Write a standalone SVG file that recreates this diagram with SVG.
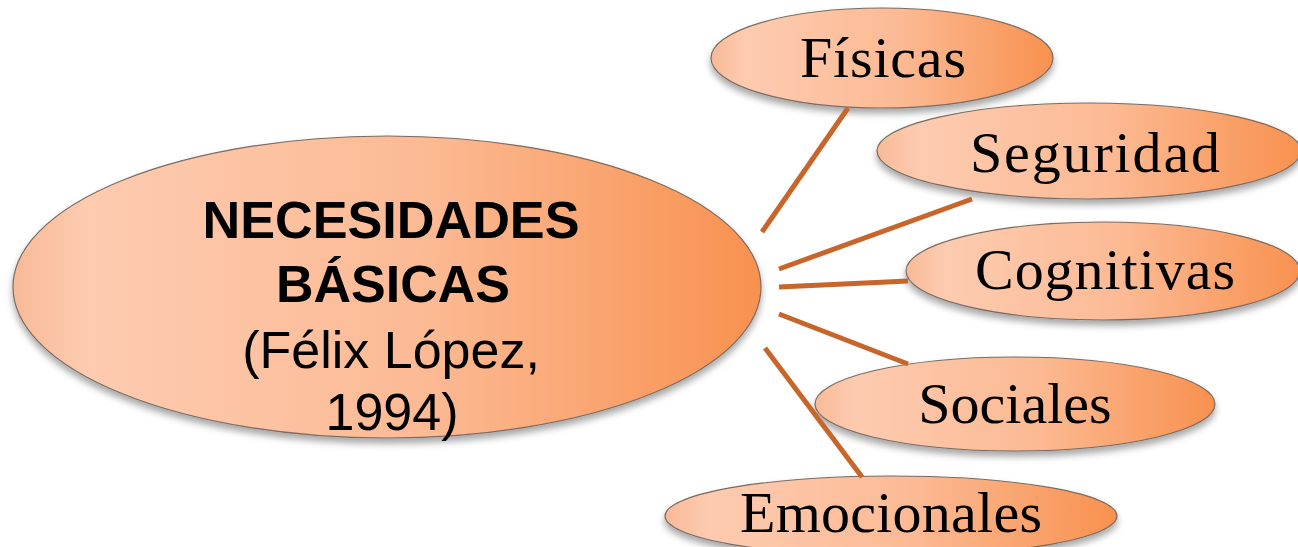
<svg xmlns="http://www.w3.org/2000/svg" width="1298" height="547" viewBox="0 0 1298 547">
  <defs>
    <linearGradient id="peach" x1="0" y1="0" x2="1" y2="0">
      <stop offset="0" stop-color="#F8BA97"/>
      <stop offset="0.1" stop-color="#FDCBB0"/>
      <stop offset="0.55" stop-color="#FCBA94"/>
      <stop offset="1" stop-color="#F8914F"/>
    </linearGradient>
    <filter id="shadow" x="-10%" y="-20%" width="120%" height="150%">
      <feDropShadow dx="0" dy="5" stdDeviation="3.5" flood-color="#000" flood-opacity="0.35"/>
    </filter>
    <style>
      .node { fill: url(#peach); stroke: #7A6B62; stroke-width: 1.2; filter: url(#shadow); }
      .main { font-family: "Liberation Sans", Arial, sans-serif; font-size: 52px; fill: #000; text-anchor: middle; }
      .bold { font-weight: bold; }
      .leaf { font-family: "Liberation Serif", "DejaVu Serif", serif; font-size: 58px; fill: #000; text-anchor: middle; }
      .conn { stroke: #C8652A; stroke-width: 5; fill: none; }
    </style>
  </defs>
  <rect width="1298" height="547" fill="#FFFFFF"/>

  <g id="node-main">
    <ellipse class="node" cx="387" cy="287" rx="374" ry="151"/>
    <text class="main bold" x="391" y="238" textLength="377" lengthAdjust="spacingAndGlyphs">NECESIDADES</text>
    <text class="main bold" x="393" y="302">BÁSICAS</text>
    <text class="main" x="391" y="368">(Félix López,</text>
    <text class="main" x="392" y="430">1994)</text>
  </g>

  <g id="node-fisicas">
    <ellipse class="node" cx="882" cy="58" rx="171" ry="50"/>
    <text class="leaf" x="883" y="77" textLength="166">Físicas</text>
  </g>

  <g id="node-seguridad">
    <ellipse class="node" cx="1089" cy="151" rx="212" ry="48"/>
    <text class="leaf" x="1095" y="172" textLength="250">Seguridad</text>
  </g>

  <g id="node-cognitivas">
    <ellipse class="node" cx="1103" cy="271" rx="197" ry="49"/>
    <text class="leaf" x="1105" y="289" textLength="260">Cognitivas</text>
  </g>

  <g id="node-sociales">
    <ellipse class="node" cx="1015" cy="404" rx="200" ry="47"/>
    <text class="leaf" x="1015" y="423">Sociales</text>
  </g>

  <g id="node-emocionales">
    <ellipse class="node" cx="891" cy="516" rx="226" ry="40"/>
    <text class="leaf" x="891" y="532" textLength="302">Emocionales</text>
  </g>

  <g id="connectors">
    <line class="conn" x1="762" y1="232" x2="848" y2="108"/>
    <line class="conn" x1="779" y1="269" x2="972" y2="199"/>
    <line class="conn" x1="779" y1="287" x2="908" y2="281"/>
    <line class="conn" x1="779" y1="314" x2="908" y2="364"/>
    <line class="conn" x1="765" y1="348" x2="862" y2="477"/>
  </g>
</svg>
